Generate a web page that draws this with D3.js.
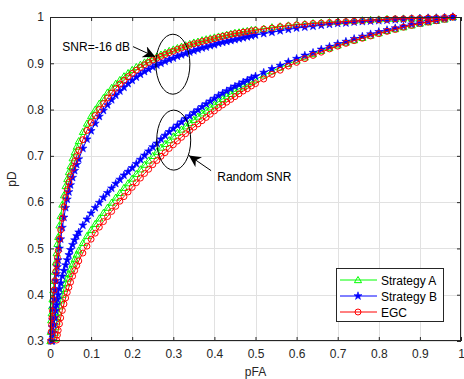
<!DOCTYPE html>
<html>
<head>
<meta charset="utf-8">
<script src="https://cdn.jsdelivr.net/npm/d3@7"></script>
<style>
html,body{margin:0;padding:0;background:#fff;}
svg{display:block;font-family:"Liberation Sans",Arial,Helvetica,sans-serif;}
</style>
</head>
<body>
<svg id="chart" width="464" height="379"></svg>
<script>
// ---------------- data ----------------
const seriesNames = ["Strategy A", "Strategy B", "EGC"];
const xTicks = [0,0.1,0.2,0.3,0.4,0.5,0.6,0.7,0.8,0.9,1];
const xTickLabels = ["0","0.1","0.2","0.3","0.4","0.5","0.6","0.7","0.8","0.9","1"];
const yTicks = [0.3,0.4,0.5,0.6,0.7,0.8,0.9,1];
const yTickLabels = ["0.3","0.4","0.5","0.6","0.7","0.8","0.9","1"];

const pfa = [0.001,0.002,0.003,0.004,0.005,0.006,0.008,0.010,0.012,0.014,0.016,0.018,0.020,
  0.023,0.026,0.030,0.034,0.038,0.042,0.046,0.050,0.055,0.060,0.065,0.070,
  0.08,0.09,0.10,0.11,0.12,0.13,0.14,0.15,0.16,0.17,0.18,0.19,0.20,
  0.21,0.22,0.23,0.24,0.25,0.26,0.27,0.28,0.29,0.30,0.31,0.32,0.33,0.34,0.35,
  0.36,0.37,0.38,0.39,0.40,0.41,0.42,0.43,0.44,0.45,0.46,0.47,0.48,0.49,0.50,
  0.52,0.54,0.56,0.58,0.60,0.62,0.64,0.66,0.68,0.70,0.72,0.74,0.76,0.78,0.80,
  0.82,0.84,0.86,0.88,0.90,0.92,0.94,0.96,0.98,1.00];

// SNR = -16 dB
const pdA_snr = [0.30,0.32,0.345,0.36,0.375,0.39,0.41,0.43,0.45,0.47,0.49,0.51,0.525,
  0.55,0.57,0.595,0.615,0.635,0.65,0.665,0.678,0.695,0.708,0.72,0.732,
  0.752,0.77,0.786,0.80,0.813,0.825,0.837,0.847,0.856,0.864,0.872,0.879,0.886,
  0.892,0.897,0.902,0.907,0.911,0.915,0.919,0.923,0.927,0.93,0.933,0.936,0.939,0.942,0.945,
  0.947,0.95,0.952,0.954,0.956,0.958,0.96,0.962,0.964,0.966,0.967,0.969,0.970,0.972,0.973,
  0.975,0.978,0.98,0.982,0.984,0.985,0.987,0.988,0.989,0.990,0.991,0.992,0.993,0.994,0.995,
  0.996,0.996,0.997,0.997,0.998,0.998,0.999,0.999,1.0];
const pdB_snr = [0.26,0.28,0.30,0.315,0.33,0.345,0.37,0.39,0.41,0.43,0.445,0.46,0.475,
  0.50,0.52,0.545,0.567,0.588,0.606,0.622,0.637,0.653,0.668,0.681,0.693,
  0.716,0.736,0.754,0.77,0.785,0.798,0.81,0.821,0.831,0.84,0.848,0.856,0.863,
  0.87,0.876,0.882,0.887,0.892,0.896,0.90,0.904,0.908,0.911,0.915,0.918,0.921,0.924,0.927,
  0.93,0.933,0.935,0.938,0.94,0.943,0.945,0.947,0.949,0.951,0.953,0.955,0.957,0.959,0.961,
  0.964,0.967,0.97,0.973,0.976,0.978,0.98,0.982,0.984,0.986,0.987,0.989,0.99,0.991,0.992,
  0.993,0.994,0.995,0.996,0.997,0.998,0.998,0.999,1.0];
const pdE_snr = [0.28,0.30,0.32,0.335,0.35,0.365,0.39,0.41,0.43,0.45,0.465,0.48,0.495,
  0.52,0.54,0.565,0.59,0.61,0.627,0.643,0.657,0.673,0.688,0.70,0.712,
  0.735,0.755,0.772,0.787,0.80,0.813,0.825,0.836,0.846,0.855,0.863,0.871,0.878,
  0.885,0.891,0.897,0.902,0.907,0.911,0.915,0.919,0.923,0.926,0.930,0.933,0.936,0.939,0.942,
  0.944,0.947,0.949,0.951,0.953,0.956,0.958,0.960,0.962,0.964,0.965,0.967,0.968,0.970,0.971,
  0.974,0.976,0.979,0.981,0.983,0.984,0.986,0.987,0.988,0.989,0.990,0.991,0.992,0.993,0.994,
  0.995,0.996,0.996,0.997,0.997,0.998,0.998,0.999,1.0];

// Random SNR
const pdA_rand = [0.2,0.22,0.24,0.255,0.268,0.28,0.292,0.305,0.318,0.33,0.342,0.352,0.362,
  0.375,0.388,0.40,0.413,0.425,0.435,0.445,0.455,0.466,0.477,0.487,0.496,
  0.512,0.527,0.54,0.553,0.565,0.577,0.588,0.599,0.61,0.62,0.631,0.641,0.651,
  0.661,0.671,0.681,0.69,0.70,0.709,0.718,0.726,0.734,0.742,0.75,0.757,0.764,0.771,0.778,
  0.785,0.792,0.798,0.805,0.811,0.817,0.823,0.829,0.834,0.84,0.845,0.85,0.855,0.86,0.865,
  0.874,0.883,0.891,0.899,0.906,0.913,0.92,0.927,0.933,0.939,0.945,0.95,0.955,0.96,0.965,
  0.97,0.974,0.978,0.982,0.986,0.989,0.992,0.995,1.0];
const pdB_rand = [0.22,0.24,0.26,0.275,0.29,0.30,0.318,0.335,0.35,0.365,0.378,0.39,0.40,
  0.413,0.425,0.44,0.452,0.464,0.475,0.486,0.497,0.508,0.518,0.527,0.535,
  0.55,0.563,0.576,0.588,0.599,0.61,0.62,0.63,0.64,0.649,0.658,0.666,0.674,
  0.683,0.692,0.701,0.71,0.719,0.727,0.736,0.744,0.752,0.759,0.766,0.773,0.78,0.786,0.793,
  0.799,0.806,0.812,0.818,0.824,0.83,0.835,0.84,0.845,0.85,0.854,0.859,0.863,0.868,0.872,
  0.88,0.888,0.895,0.903,0.91,0.917,0.923,0.93,0.936,0.942,0.947,0.953,0.958,0.963,0.968,
  0.972,0.976,0.98,0.984,0.987,0.99,0.993,0.996,1.0];
const pdE_rand = [0.15,0.17,0.19,0.2,0.215,0.225,0.245,0.26,0.275,0.29,0.302,0.313,0.323,
  0.337,0.35,0.366,0.38,0.393,0.405,0.416,0.427,0.44,0.452,0.463,0.473,
  0.49,0.505,0.52,0.533,0.546,0.558,0.569,0.58,0.591,0.602,0.612,0.622,0.632,
  0.642,0.652,0.662,0.671,0.681,0.69,0.699,0.707,0.716,0.724,0.732,0.74,0.748,0.755,0.762,
  0.769,0.776,0.783,0.79,0.797,0.804,0.81,0.816,0.822,0.828,0.834,0.84,0.845,0.851,0.856,
  0.866,0.876,0.885,0.894,0.902,0.91,0.917,0.924,0.931,0.937,0.943,0.949,0.954,0.959,0.964,
  0.969,0.973,0.978,0.982,0.986,0.989,0.992,0.995,1.0];

const annotSNR = "SNR=-16 dB";
const annotRand = "Random SNR";
const xLabel = "pFA";
const yLabel = "pD";

// ---------------- drawing ----------------
const svg = d3.select("#chart");
const L = 50, R = 461, T = 17, B = 341;
const x = d3.scaleLinear().domain([0,1]).range([L,R]);
const y = d3.scaleLinear().domain([0.3,1]).range([B,T]);
const axisColor = "#262626";

svg.append("rect").attr("x",0).attr("y",0).attr("width",464).attr("height",379).attr("fill","#fff");

// grid
const grid = svg.append("g");
grid.selectAll("line.gx").data(xTicks).join("line")
  .attr("x1",d=>Math.round(x(d))+0.5).attr("x2",d=>Math.round(x(d))+0.5)
  .attr("y1",T).attr("y2",B).attr("stroke","#e1e1e1").attr("stroke-width",1);
grid.selectAll("line.gy").data(yTicks).join("line")
  .attr("y1",d=>Math.round(y(d))+0.5).attr("y2",d=>Math.round(y(d))+0.5)
  .attr("x1",L).attr("x2",R).attr("stroke","#e1e1e1").attr("stroke-width",1);

const defs = svg.append("defs");
defs.append("clipPath").attr("id","clip")
  .append("rect").attr("x",L).attr("y",T).attr("width",R-L).attr("height",B-T);

const series = [
  {name:seriesNames[0], color:"#00ff00", sym:"tri", vals:[pdA_snr, pdA_rand]},
  {name:seriesNames[1], color:"#0000ff", sym:"star", vals:[pdB_snr, pdB_rand]},
  {name:seriesNames[2], color:"#ff0000", sym:"circ", vals:[pdE_snr, pdE_rand]}
];

function markerPath(sym){
  if(sym==="tri") return d3.symbol().type(d3.symbolTriangle).size(22)();
  if(sym==="star") return d3.symbol().type(d3.symbolStar).size(20)();
  return d3.symbol().type(d3.symbolCircle).size(28)();
}
function styleMarker(sel, s){
  if(s.sym==="star") sel.attr("fill",s.color).attr("stroke",s.color).attr("stroke-width",0.6);
  else sel.attr("fill","none").attr("stroke",s.color).attr("stroke-width",1);
}

const line = d3.line().x(d=>x(d[0])).y(d=>y(d[1]));
const plot = svg.append("g");
series.forEach(s=>{
  s.vals.forEach(arr=>{
    const pts = pfa.map((p,i)=>[p,arr[i]]);
    plot.append("path").datum(pts).attr("d",line).attr("fill","none")
      .attr("stroke",s.color).attr("stroke-width",1).attr("clip-path","url(#clip)");
    const vis = pts.filter(d=>d[1]>=0.3);
    const ms = plot.append("g").selectAll("path").data(vis).join("path")
      .attr("d",markerPath(s.sym))
      .attr("transform",d=>`translate(${x(d[0])},${y(d[1])+(s.sym==="tri"?0.6:0)})`);
    styleMarker(ms, s);
  });
});

// axes box and ticks
const ax = svg.append("g").attr("transform",`translate(0,${B})`)
  .call(d3.axisBottom(x).tickValues(xTicks).tickFormat((d,i)=>xTickLabels[i]).tickSizeInner(-4).tickSizeOuter(0).tickPadding(8));
const ay = svg.append("g").attr("transform",`translate(${L},0)`)
  .call(d3.axisLeft(y).tickValues(yTicks).tickFormat((d,i)=>yTickLabels[i]).tickSizeInner(-4).tickSizeOuter(0).tickPadding(6));
const axTop = svg.append("g").attr("transform",`translate(0,${T})`)
  .call(d3.axisTop(x).tickValues(xTicks).tickFormat("").tickSizeInner(-4).tickSizeOuter(0));
const ayR = svg.append("g").attr("transform",`translate(${R},0)`)
  .call(d3.axisRight(y).tickValues(yTicks).tickFormat("").tickSizeInner(-4).tickSizeOuter(0));
[ax,ay,axTop,ayR].forEach(g=>{
  g.select(".domain").remove();
  g.selectAll("line").attr("stroke",axisColor);
  g.selectAll("text").attr("fill",axisColor).style("font-size","12px")
    .style("font-family",'"Liberation Sans",Arial,sans-serif');
});
svg.append("rect").attr("x",L+0.5).attr("y",T+0.5).attr("width",R-L-1).attr("height",B-T-1)
  .attr("fill","none").attr("stroke",axisColor).attr("stroke-width",1);

// axis labels
svg.append("text").attr("x",(L+R)/2).attr("y",376).attr("text-anchor","middle")
  .attr("fill",axisColor).style("font-size","12px").text(xLabel);
svg.append("text").attr("transform",`translate(16,${(T+B)/2}) rotate(-90)`).attr("text-anchor","middle")
  .attr("fill",axisColor).style("font-size","12px").text(yLabel);

// annotations: ellipses
const ellipses = [{cx:0.299, cy:0.898}, {cx:0.301, cy:0.734}];
svg.append("g").selectAll("ellipse").data(ellipses).join("ellipse")
  .attr("cx",d=>x(d.cx)).attr("cy",d=>y(d.cy)).attr("rx",17).attr("ry",30)
  .attr("fill","none").attr("stroke","#000").attr("stroke-width",1);

// arrows
defs.append("marker").attr("id","ah").attr("viewBox","0 0 10 10").attr("refX",10).attr("refY",5)
  .attr("markerWidth",12).attr("markerHeight",12).attr("markerUnits","userSpaceOnUse").attr("orient","auto")
  .append("path").attr("d","M0,0 L10,5 L0,10 L3,5 Z").attr("fill","#000");
const arrows = [
  {x1:0.202, y1:0.936, x2:0.256, y2:0.914},
  {x1:0.392, y1:0.668, x2:0.338, y2:0.701}
];
svg.append("g").selectAll("line").data(arrows).join("line")
  .attr("x1",d=>x(d.x1)).attr("y1",d=>y(d.y1)).attr("x2",d=>x(d.x2)).attr("y2",d=>y(d.y2))
  .attr("stroke","#000").attr("stroke-width",1).attr("marker-end","url(#ah)");

svg.append("text").attr("x",x(0.03)).attr("y",y(0.936)+4).attr("fill","#000")
  .style("font-size","12px").text(annotSNR);
svg.append("text").attr("x",x(0.407)).attr("y",y(0.654)+4).attr("fill","#000")
  .style("font-size","12px").text(annotRand);

// legend
const lg = svg.append("g");
lg.append("rect").attr("x",336.5).attr("y",268.5).attr("width",107).attr("height",53)
  .attr("fill","#fff").attr("stroke",axisColor).attr("stroke-width",1);
series.forEach((s,i)=>{
  const yy = 280 + i*16;
  lg.append("line").attr("x1",340).attr("x2",377).attr("y1",yy).attr("y2",yy)
    .attr("stroke",s.color).attr("stroke-width",1);
  const m = lg.append("path").attr("d",markerPath(s.sym))
    .attr("transform",`translate(358,${yy+(s.sym==="tri"?0.6:0)})`);
  styleMarker(m, s);
  lg.append("text").attr("x",381).attr("y",yy+4.5).attr("fill","#000")
    .style("font-size","12px").text(s.name);
});
</script>
</body>
</html>
